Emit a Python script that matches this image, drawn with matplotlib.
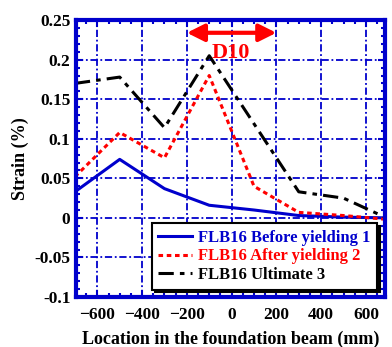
import matplotlib.pyplot as plt
from matplotlib.ticker import MultipleLocator

plt.rcParams["font.family"] = ["Liberation Serif", "DejaVu Serif"]
plt.rcParams["font.weight"] = "bold"

# location in the foundation beam (mm)
loc = [-700, -500, -300, -100, 100, 300, 500, 700]
before_yield = [0.033, 0.074, 0.037, 0.016, 0.010, 0.003, 0.001, 0.0]
after_yield = [0.052, 0.108, 0.076, 0.180, 0.040, 0.007, 0.003, -0.002]
loc_ult = [-700, -500, -300, -100, 300, 500, 700]
ultimate = [0.170, 0.178, 0.114, 0.205, 0.033, 0.025, -0.001]

labels = ["FLB16 Before yielding 1", "FLB16 After yielding 2", "FLB16 Ultimate 3"]
xticks = [-600, -400, -200, 0, 200, 400, 600]
yticks = [-0.1, -0.05, 0, 0.05, 0.1, 0.15, 0.2, 0.25]
ytick_labels = ["-0.1", "-0.05", "0", "0.05", "0.1", "0.15", "0.2", "0.25"]

blue = "#0000cc"
red = "#ff0000"

fig = plt.figure(figsize=(3.92, 3.47), dpi=100)
ax = fig.add_axes([0.194, 0.144, 0.788, 0.798])

ax.plot(loc, before_yield, color=blue, lw=2.2, label=labels[0])
ax.plot(loc, after_yield, color=red, lw=2.2, ls=(0, (1.5, 1.2)), label=labels[1])
ax.plot(loc_ult, ultimate, color="black", lw=2.2, ls=(0, (5, 2, 1.5, 2)), label=labels[2])

# D10 marker
ax.annotate("", xy=(-200, 0.234), xytext=(200, 0.234),
            arrowprops=dict(arrowstyle="<|-|>", color=red, lw=3,
                            mutation_scale=26, shrinkA=0, shrinkB=0))
ax.text(-5, 0.208, "D10", color=red, fontsize=16, fontweight="bold",
        ha="center", va="center")

ax.set_xlim(-695, 685)
ax.set_ylim(-0.1, 0.25)
ax.set_xticks(xticks)
ax.set_yticks(yticks)
ax.set_yticklabels(ytick_labels)
ax.xaxis.set_minor_locator(MultipleLocator(50))
ax.yaxis.set_minor_locator(MultipleLocator(0.01))
ax.tick_params(which="both", direction="in", top=True, right=True, color=blue,
               labelsize=12.5, width=1.5)
ax.tick_params(which="major", length=5)
ax.tick_params(which="minor", length=3)
ax.tick_params(axis="x", pad=7)
ax.tick_params(axis="y", pad=4)

ax.grid(True, color=blue, ls=(0, (4, 1.5, 1, 1.5)), lw=1.3)
for s in ax.spines.values():
    s.set_color(blue)
    s.set_linewidth(3)

ax.set_xlabel("Location in the foundation beam (mm)", fontsize=13, fontweight="bold",
              labelpad=6)
ax.set_ylabel("Strain (%)", fontsize=13, fontweight="bold", labelpad=4)

leg = ax.legend(loc="lower right", fontsize=12, frameon=True,
                shadow={"color": "black", "alpha": 1.0, "ox": 2, "oy": -2},
                fancybox=False, handlelength=2.0, borderpad=0.4,
                labelspacing=0.15, handletextpad=0.4, borderaxespad=0.45)
leg.get_frame().set_edgecolor("black")
leg.get_frame().set_linewidth(1.5)
for txt, c in zip(leg.get_texts(), [blue, red, "black"]):
    txt.set_color(c)

fig.savefig("out.png", dpi=100)
